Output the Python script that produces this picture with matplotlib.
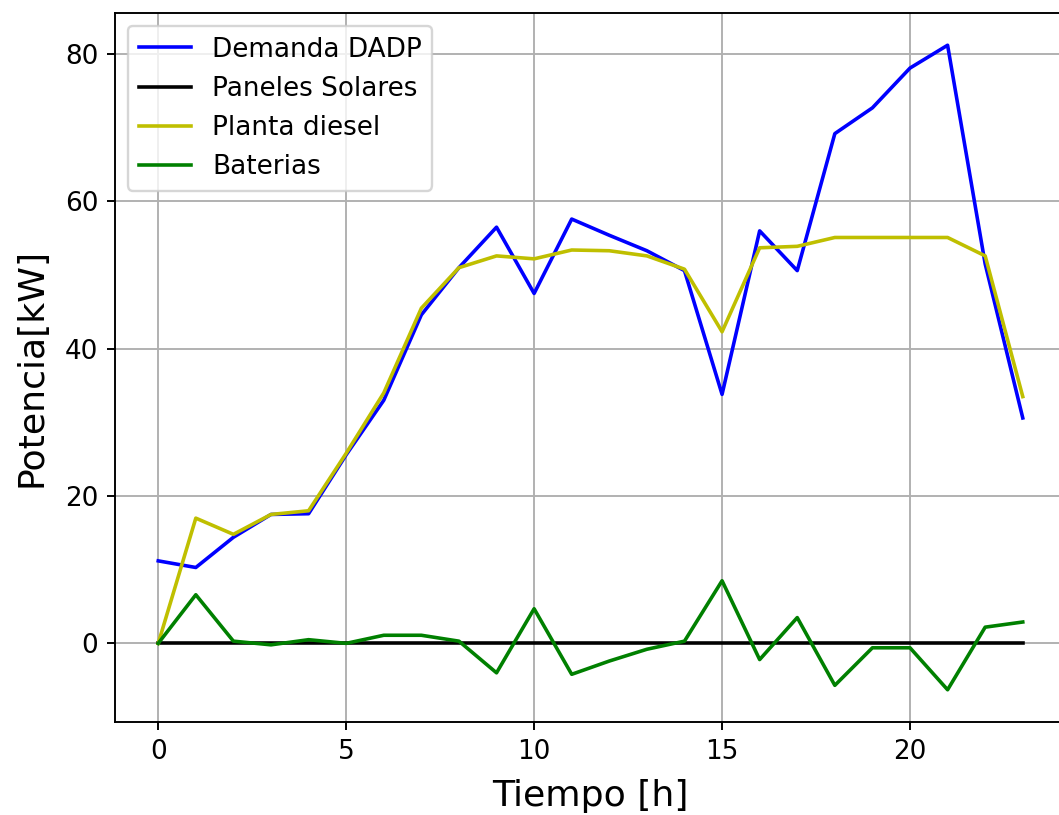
import numpy as np
import matplotlib
matplotlib.use('Agg')
import matplotlib.pyplot as plt

# hourly values
horas = np.arange(24)
demanda = [11.2, 10.3, 14.4, 17.5, 17.6, 25.6, 33.0, 44.6, 51.0, 56.5, 47.5, 57.6,
           55.4, 53.3, 50.6, 33.8, 56.0, 50.6, 69.2, 72.7, 78.1, 81.2, 51.5, 30.6]
solar = [0.0] * 24
diesel = [0.0, 17.0, 14.8, 17.5, 18.0, 25.8, 34.0, 45.5, 51.0, 52.6, 52.2, 53.4,
          53.3, 52.6, 50.8, 42.3, 53.7, 53.9, 55.1, 55.1, 55.1, 55.1, 52.6, 33.5]
baterias = [0.0, 6.6, 0.3, -0.2, 0.5, 0.0, 1.1, 1.1, 0.3, -4.0, 4.7, -4.2,
            -2.4, -0.8, 0.3, 8.5, -2.2, 3.5, -5.7, -0.6, -0.6, -6.3, 2.2, 2.9]

dpi = 172
fig = plt.figure(figsize=(1059 / dpi, 815 / dpi), dpi=dpi)
ax = fig.add_axes([115 / 1059, 1 - 722 / 815, (1066 - 115) / 1059, (722 - 13) / 815])

ax.plot(horas, demanda, 'b', label='Demanda DADP')
ax.plot(horas, solar, 'k', label='Paneles Solares')
ax.plot(horas, diesel, 'y', label='Planta diesel')
ax.plot(horas, baterias, 'g', label='Baterias')

ax.set_xlabel('Tiempo [h]', fontsize=15.2, labelpad=6)
ax.set_ylabel('Potencia[kW]', fontsize=15.2, labelpad=7)
ax.set_yticks([0, 20, 40, 60, 80])
ax.tick_params(labelsize=11)
ax.grid(True)
ax.legend(loc='upper left', fontsize=11)

fig.savefig('out.png', dpi=dpi)
